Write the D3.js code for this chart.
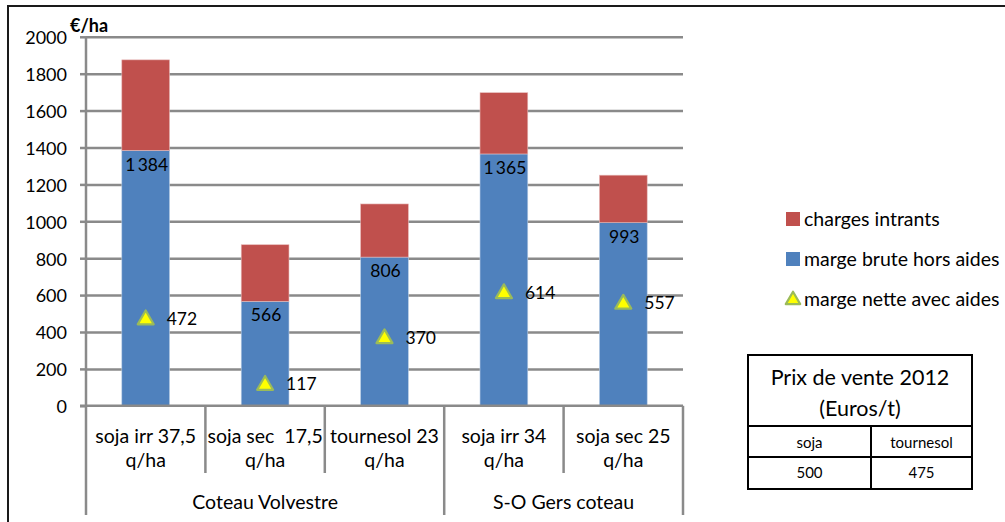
<!DOCTYPE html>
<html>
<head>
<meta charset="utf-8">
<script src="https://cdn.jsdelivr.net/npm/d3@7"></script>
<style>
  html, body { margin: 0; padding: 0; background: #fff; }
  svg { display: block; font-family: Lato, "Open Sans", sans-serif; }
</style>
</head>
<body>
<svg id="chart" width="1005" height="522"></svg>
<script>
// Categories (two-line labels) and their regional groups
const categoryLines = [
  ["soja irr 37,5", "q/ha"],
  ["soja sec  17,5", "q/ha"],
  ["tournesol 23", "q/ha"],
  ["soja irr 34", "q/ha"],
  ["soja sec 25", "q/ha"]
];
const groups = ["Coteau Volvestre", "S-O Gers coteau"];
const groupSizes = [3, 2];

// Series (€/ha)
const margeBrute = [1384, 566, 806, 1365, 993];
const chargesIntrants = [491, 307, 288, 332, 257];
const margeNette = [472, 117, 370, 614, 557];

// Y axis ticks
const yTicks = [0, 200, 400, 600, 800, 1000, 1200, 1400, 1600, 1800, 2000];

// Legend entries
const legendLabels = ["charges intrants", "marge brute hors aides", "marge nette avec aides"];

// Price table
const priceTitle = ["Prix de vente 2012", "(Euros/t)"];
const priceCrops = ["soja", "tournesol"];
const priceValues = ["500", "475"];

const RED = "#c0504d", BLUE = "#4f81bd", GRID = "#8a8a8a";
const LABEL_SIZE = 19.5;
const svg = d3.select("#chart");

// Outer frame
svg.append("rect")
  .attr("x", 8).attr("y", 6).attr("width", 1020).attr("height", 540)
  .attr("fill", "none").attr("stroke", "#1a1a1a").attr("stroke-width", 2);

const plot = { left: 86, right: 683, top: 36.8, bottom: 405.8 };
const idx = categoryLines.map((d, i) => i);

const x = d3.scaleBand()
  .domain(idx)
  .range([plot.left, plot.right])
  .paddingInner(0.6)
  .paddingOuter(0.3);
const step = x.step();

const y = d3.scaleLinear().domain([0, 2000]).range([plot.bottom, plot.top]);

// Tick marks and labels of the value axis
const yAxis = svg.append("g")
  .attr("transform", `translate(${plot.left},0)`)
  .call(d3.axisLeft(y).tickValues(yTicks).tickSize(6).tickPadding(13).tickFormat(d3.format("d")));
yAxis.select(".domain").remove();
yAxis.selectAll(".tick line").attr("stroke", GRID).attr("stroke-width", 2.5);
yAxis.selectAll(".tick text")
  .attr("font-size", 18).attr("fill", "#000").attr("font-family", "Lato, sans-serif")
  .attr("dy", "0.38em");

// Horizontal gridlines
const grid = svg.append("g")
  .attr("transform", `translate(${plot.left},0)`)
  .call(d3.axisLeft(y).tickValues(yTicks.slice(1)).tickSize(-(plot.right - plot.left)).tickFormat(""));
grid.select(".domain").remove();
grid.selectAll(".tick line").attr("stroke", GRID).attr("stroke-width", 2.5);

// Stacked bars
const stacked = idx.map(i => ({ i, brute: margeBrute[i], charges: chargesIntrants[i] }));
const bars = svg.append("g");
bars.selectAll("rect.brute").data(stacked).join("rect")
  .attr("class", "brute")
  .attr("x", d => x(d.i)).attr("width", x.bandwidth())
  .attr("y", d => y(d.brute)).attr("height", d => y(0) - y(d.brute))
  .attr("fill", BLUE).attr("stroke", "#b9cde5").attr("stroke-width", 0.6);
bars.selectAll("rect.charges").data(stacked).join("rect")
  .attr("class", "charges")
  .attr("x", d => x(d.i)).attr("width", x.bandwidth())
  .attr("y", d => y(d.brute + d.charges)).attr("height", d => y(d.brute) - y(d.brute + d.charges))
  .attr("fill", RED).attr("stroke", "#e6b9b8").attr("stroke-width", 0.6);

// Value labels for marge brute
const fmt = v => (v >= 1000 ? d3.format(",")(v).replace(",", "\u2009") : String(v));
bars.selectAll("text.val").data(stacked).join("text")
  .attr("class", "val")
  .attr("x", d => x(d.i) + x.bandwidth() / 2 + 1)
  .attr("y", d => y(d.brute) + 14)
  .attr("dy", "0.35em")
  .attr("text-anchor", "middle")
  .attr("font-size", 17.5).attr("fill", "#000")
  .text(d => fmt(d.brute));

// Triangle markers for marge nette
const tri = d3.symbol().type(d3.symbolTriangle).size(110);
const nette = idx.map(i => ({ i, v: margeNette[i] }));
svg.append("g").selectAll("path").data(nette).join("path")
  .attr("d", tri)
  .attr("transform", d => `translate(${x(d.i) + x.bandwidth() / 2},${y(d.v) + 1})`)
  .attr("fill", "#ffff00").attr("stroke", "#9bbb59").attr("stroke-width", 2.2)
  .attr("stroke-linejoin", "round");
svg.append("g").selectAll("text").data(nette).join("text")
  .attr("x", d => x(d.i) + x.bandwidth() / 2 + 21)
  .attr("y", d => y(d.v))
  .attr("dy", "0.35em")
  .attr("font-size", 17.5).attr("fill", "#000")
  .text(d => d.v);

// Category axis baseline and value axis line
const axisG = svg.append("g").attr("stroke", GRID).attr("stroke-width", 2.5);
axisG.append("line").attr("x1", plot.left - 6).attr("x2", plot.right)
  .attr("y1", plot.bottom).attr("y2", plot.bottom);
axisG.append("line").attr("x1", plot.left).attr("x2", plot.left)
  .attr("y1", plot.top).attr("y2", plot.bottom);

// Dividers between categories; group edges run down past the group labels
const groupEdges = [0, ...Array.from(d3.cumsum(groupSizes))];
const boundaries = d3.range(categoryLines.length + 1);
boundaries.forEach(k => {
  const bx = plot.left + k * step;
  const isGroupEdge = groupEdges.includes(k);
  axisG.append("line").attr("x1", bx).attr("x2", bx)
    .attr("y1", plot.bottom).attr("y2", isGroupEdge ? 515 : 473);
});

// Category labels
const catG = svg.append("g").attr("font-size", LABEL_SIZE).attr("fill", "#000").attr("text-anchor", "middle");
categoryLines.forEach((lines, i) => {
  lines.forEach((ln, j) => {
    catG.append("text")
      .attr("x", x(i) + x.bandwidth() / 2)
      .attr("y", 436 + j * 24)
      .attr("dy", "0.35em")
      .style("white-space", "pre")
      .text(ln);
  });
});

// Group labels
groups.forEach((g, k) => {
  const a = plot.left + groupEdges[k] * step, b = plot.left + groupEdges[k + 1] * step;
  catG.append("text").attr("x", (a + b) / 2).attr("y", 502).attr("dy", "0.35em").text(g);
});

// Unit label
svg.append("text").attr("x", 70).attr("y", 26).attr("dy", "0.35em")
  .attr("font-size", 18).attr("font-weight", "bold").text("€/ha");

// Legend
const leg = svg.append("g").attr("font-size", LABEL_SIZE).attr("fill", "#000");
const legY = [219, 259, 299];
leg.append("rect").attr("x", 786).attr("y", legY[0] - 7).attr("width", 14).attr("height", 14).attr("fill", RED);
leg.append("rect").attr("x", 786).attr("y", legY[1] - 7).attr("width", 14).attr("height", 14).attr("fill", BLUE);
leg.append("path").attr("d", d3.symbol().type(d3.symbolTriangle).size(90))
  .attr("transform", `translate(793,${legY[2] + 1})`)
  .attr("fill", "#ffff00").attr("stroke", "#9bbb59").attr("stroke-width", 2.2).attr("stroke-linejoin", "round");
legendLabels.forEach((t, k) => {
  leg.append("text").attr("x", 804).attr("y", legY[k]).attr("dy", "0.35em").text(t);
});

// Price table
const tb = { left: 748, right: 972, top: 355, r1: 426, r2: 457, bottom: 489, mid: 871 };
const tg = svg.append("g");
tg.append("rect").attr("x", tb.left).attr("y", tb.top)
  .attr("width", tb.right - tb.left).attr("height", tb.bottom - tb.top)
  .attr("fill", "none").attr("stroke", "#000").attr("stroke-width", 2);
[tb.r1, tb.r2].forEach(ry => tg.append("line").attr("x1", tb.left).attr("x2", tb.right)
  .attr("y1", ry).attr("y2", ry).attr("stroke", "#000").attr("stroke-width", 2));
tg.append("line").attr("x1", tb.mid).attr("x2", tb.mid).attr("y1", tb.r1).attr("y2", tb.bottom)
  .attr("stroke", "#000").attr("stroke-width", 2);
priceTitle.forEach((t, k) => {
  tg.append("text").attr("x", (tb.left + tb.right) / 2).attr("y", 377 + k * 31)
    .attr("dy", "0.35em").attr("text-anchor", "middle").attr("font-size", 21.5).text(t);
});
const colX = [(tb.left + tb.mid) / 2, (tb.mid + tb.right) / 2];
priceCrops.forEach((t, k) => {
  tg.append("text").attr("x", colX[k]).attr("y", (tb.r1 + tb.r2) / 2 + 1)
    .attr("dy", "0.35em").attr("text-anchor", "middle").attr("font-size", 15).text(t);
});
priceValues.forEach((t, k) => {
  tg.append("text").attr("x", colX[k]).attr("y", (tb.r2 + tb.bottom) / 2)
    .attr("dy", "0.35em").attr("text-anchor", "middle").attr("font-size", 15).text(t);
});
</script>
</body>
</html>
